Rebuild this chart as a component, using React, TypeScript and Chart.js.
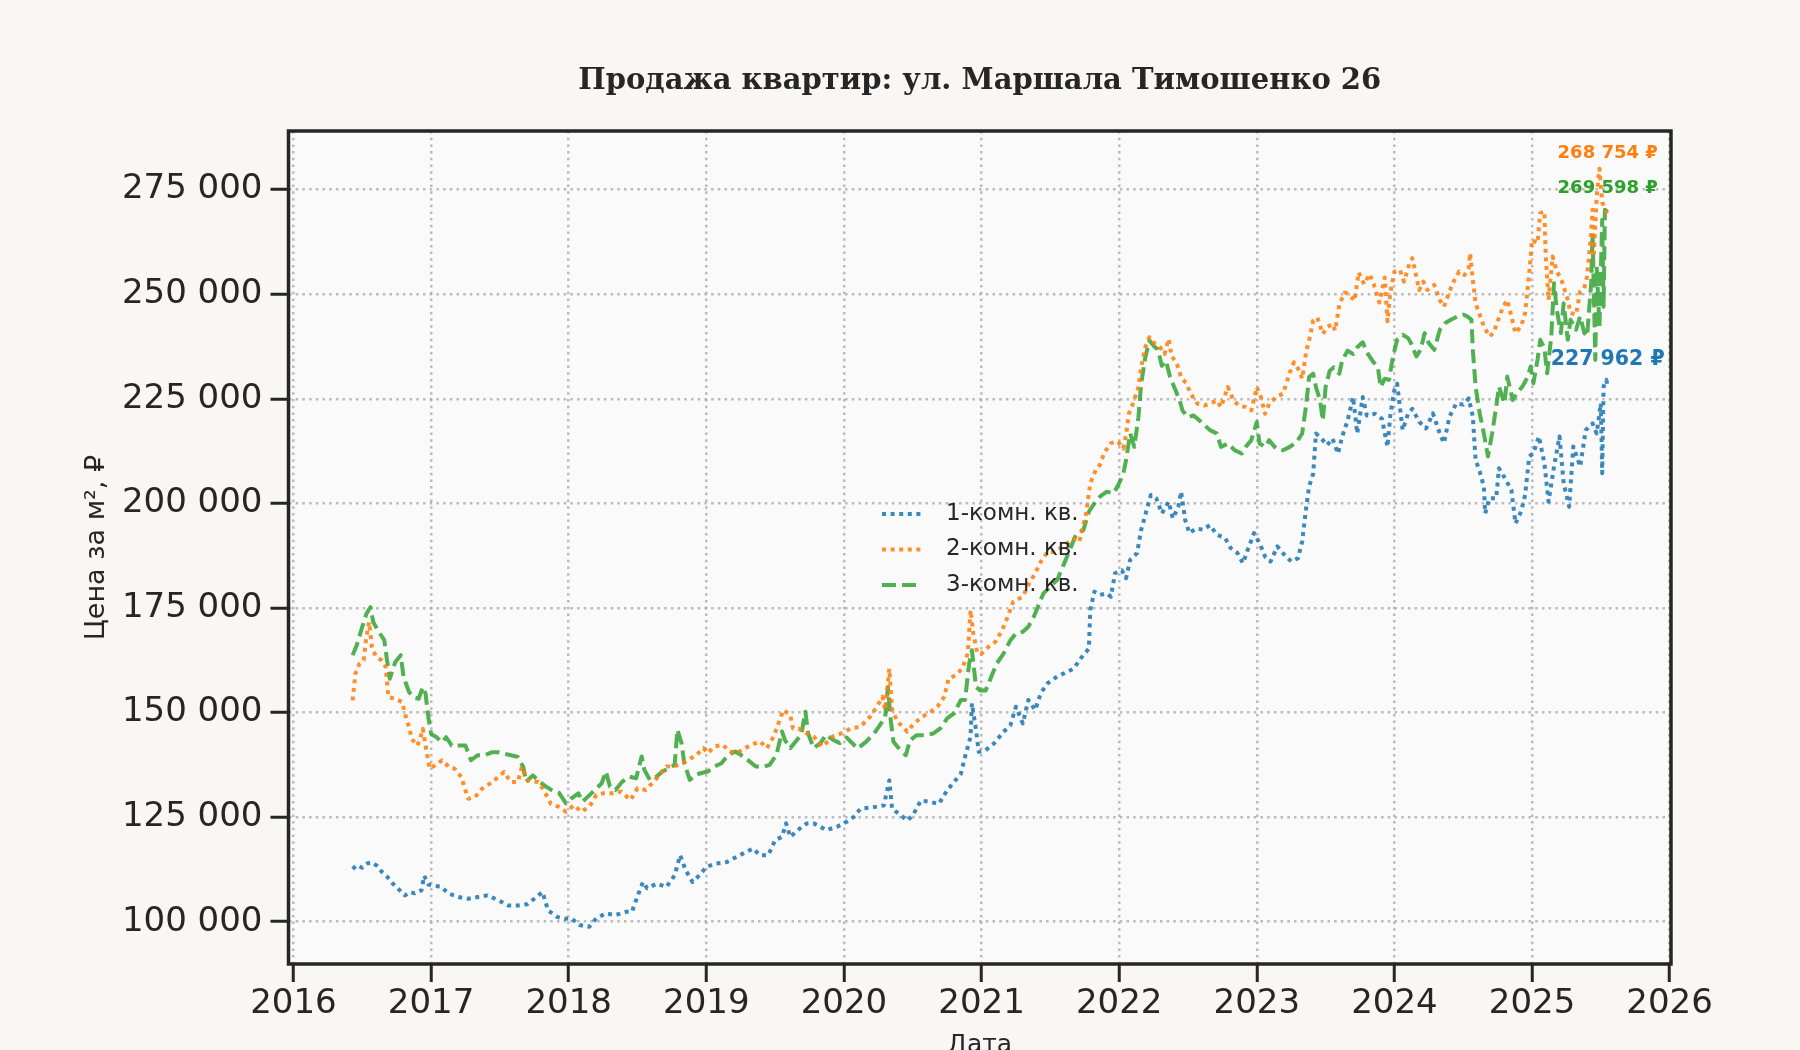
import React, { useEffect, useRef } from 'react';
import { Chart, registerables } from 'chart.js';

Chart.register(...registerables);

const chartTitle = 'Продажа квартир: ул. Маршала Тимошенко 26';
const xTitle = 'Дата';
const yTitle = 'Цена за м², ₽';
const seriesNames = ['1-комн. кв.', '2-комн. кв.', '3-комн. кв.'];
const yearTicks = [2016, 2017, 2018, 2019, 2020, 2021, 2022, 2023, 2024, 2025, 2026];
const priceTicks = [100000, 125000, 150000, 175000, 200000, 225000, 250000, 275000];

// [дата (доля года), цена за м²]
const oneRoom: [number, number][] = [
  [2016.43, 112600], [2016.46, 113500], [2016.5, 112900], [2016.54, 114000], [2016.57, 114200],
  [2016.61, 113300], [2016.64, 112000], [2016.68, 110800], [2016.72, 109200], [2016.76, 107900],
  [2016.81, 106300], [2016.85, 107100], [2016.88, 106800], [2016.93, 107500], [2016.95, 111000],
  [2016.98, 108900], [2017.02, 108600], [2017.07, 108400], [2017.13, 106700], [2017.2, 105900],
  [2017.27, 105500], [2017.34, 105900], [2017.41, 106300], [2017.49, 105100], [2017.56, 103900],
  [2017.63, 103900], [2017.7, 104200], [2017.75, 105500], [2017.81, 107100], [2017.85, 102700],
  [2017.92, 101100], [2017.97, 100700], [2018.02, 100800], [2018.08, 99200], [2018.15, 98800],
  [2018.2, 100800], [2018.27, 102000], [2018.34, 101600], [2018.42, 102400], [2018.46, 102400],
  [2018.49, 105200], [2018.54, 109500], [2018.57, 108000], [2018.64, 109100], [2018.71, 108300],
  [2018.77, 111100], [2018.81, 115900], [2018.85, 112300], [2018.9, 109500], [2018.95, 111100],
  [2019.0, 113100], [2019.07, 113900], [2019.15, 114300], [2019.22, 115500], [2019.29, 116700],
  [2019.34, 117500], [2019.39, 115900], [2019.45, 115900], [2019.5, 119500], [2019.55, 120300],
  [2019.58, 123500], [2019.61, 120300], [2019.68, 122300], [2019.73, 123500], [2019.78, 123500],
  [2019.83, 122700], [2019.87, 121900], [2019.95, 122700], [2020.02, 123900], [2020.07, 125000],
  [2020.12, 127000], [2020.22, 127400], [2020.29, 127800], [2020.33, 133800], [2020.35, 127000],
  [2020.4, 125800], [2020.46, 124200], [2020.5, 125400], [2020.56, 129000], [2020.63, 128600],
  [2020.69, 128200], [2020.75, 131400], [2020.81, 133800], [2020.85, 135400], [2020.88, 139400],
  [2020.92, 144200], [2020.93, 152200], [2020.96, 145800], [2020.98, 140600], [2021.03, 141000],
  [2021.09, 142600], [2021.16, 145400], [2021.21, 147000], [2021.25, 151400], [2021.3, 147400],
  [2021.34, 153000], [2021.39, 150600], [2021.43, 154600], [2021.48, 157000], [2021.55, 158600],
  [2021.62, 159700], [2021.67, 160500], [2021.72, 162900], [2021.78, 165300], [2021.79, 174500],
  [2021.82, 178900], [2021.86, 178100], [2021.91, 178500], [2021.94, 177700], [2021.97, 183300],
  [2022.02, 184000], [2022.05, 182100], [2022.08, 186500], [2022.13, 188100], [2022.16, 193700],
  [2022.2, 198400], [2022.23, 202000], [2022.27, 201200], [2022.31, 197600], [2022.36, 200400],
  [2022.39, 196400], [2022.43, 199200], [2022.45, 202800], [2022.48, 196000], [2022.51, 192900],
  [2022.56, 194000], [2022.61, 193700], [2022.66, 194800], [2022.71, 192500], [2022.77, 191700],
  [2022.81, 189300], [2022.86, 188100], [2022.9, 185700], [2022.93, 188500], [2022.98, 192900],
  [2023.02, 190500], [2023.06, 187300], [2023.1, 186100], [2023.15, 189700], [2023.19, 188100],
  [2023.25, 186100], [2023.3, 186900], [2023.33, 190900], [2023.36, 199200], [2023.38, 204000],
  [2023.41, 207100], [2023.43, 216700], [2023.47, 215500], [2023.51, 213900], [2023.55, 215500],
  [2023.59, 211900], [2023.62, 215900], [2023.66, 219800], [2023.7, 225400], [2023.73, 216700],
  [2023.77, 225400], [2023.8, 221000], [2023.86, 221400], [2023.91, 220200], [2023.95, 213500],
  [2023.97, 221000], [2024.0, 227100], [2024.02, 228600], [2024.06, 217500], [2024.1, 221500],
  [2024.13, 222600], [2024.18, 219500], [2024.23, 217900], [2024.28, 221500], [2024.33, 216700],
  [2024.36, 214400], [2024.4, 220700], [2024.45, 223900], [2024.5, 223600], [2024.54, 225100],
  [2024.57, 220700], [2024.59, 210400], [2024.62, 207600], [2024.65, 204000], [2024.66, 197600],
  [2024.69, 201200], [2024.74, 201200], [2024.76, 208400], [2024.81, 205600], [2024.85, 203200],
  [2024.88, 195200], [2024.92, 198000], [2024.95, 202000], [2024.98, 211200], [2025.01, 212000],
  [2025.05, 216000], [2025.09, 209600], [2025.12, 200400], [2025.16, 208800], [2025.2, 216000],
  [2025.23, 204800], [2025.27, 199200], [2025.3, 213600], [2025.35, 208800], [2025.39, 217500],
  [2025.44, 219100], [2025.47, 216700], [2025.5, 223900], [2025.51, 207200], [2025.52, 227900],
  [2025.54, 229500], [2025.55, 227962],
];

const twoRoom: [number, number][] = [
  [2016.43, 152900], [2016.44, 156100], [2016.45, 159300], [2016.48, 161700], [2016.51, 162500],
  [2016.53, 168100], [2016.55, 171600], [2016.57, 165700], [2016.6, 163300], [2016.64, 162500],
  [2016.67, 160900], [2016.69, 153700], [2016.74, 153300], [2016.79, 152500], [2016.81, 149700],
  [2016.84, 146500], [2016.86, 143700], [2016.9, 142100], [2016.92, 143700], [2016.94, 146100],
  [2016.97, 140200], [2016.99, 136600], [2017.03, 137400], [2017.08, 138600], [2017.13, 137000],
  [2017.17, 136600], [2017.22, 134600], [2017.25, 131400], [2017.27, 129400], [2017.32, 129800],
  [2017.37, 131800], [2017.41, 132600], [2017.46, 133800], [2017.53, 135800], [2017.58, 133400],
  [2017.63, 133400], [2017.66, 137000], [2017.7, 133800], [2017.78, 133400], [2017.82, 131400],
  [2017.87, 128200], [2017.92, 127600], [2017.98, 126300], [2018.04, 127900], [2018.09, 126300],
  [2018.15, 127500], [2018.2, 130300], [2018.25, 130700], [2018.32, 130700], [2018.38, 131100],
  [2018.45, 129100], [2018.5, 131900], [2018.56, 131500], [2018.64, 134300], [2018.71, 137100],
  [2018.77, 137100], [2018.82, 137900], [2018.87, 138700], [2018.93, 139900], [2018.98, 141500],
  [2019.01, 140300], [2019.06, 141900], [2019.12, 142300], [2019.17, 140700], [2019.22, 140300],
  [2019.28, 141500], [2019.33, 142300], [2019.39, 143100], [2019.44, 141500], [2019.49, 144300],
  [2019.52, 147000], [2019.56, 150600], [2019.61, 149400], [2019.63, 146200], [2019.67, 146200],
  [2019.73, 145000], [2019.78, 144300], [2019.84, 141900], [2019.87, 142700], [2019.92, 144300],
  [2019.98, 145000], [2020.05, 146200], [2020.12, 146600], [2020.19, 149000], [2020.24, 151400],
  [2020.28, 153800], [2020.3, 150600], [2020.33, 160500], [2020.35, 150600], [2020.39, 147800],
  [2020.44, 146200], [2020.46, 145400], [2020.51, 147400], [2020.57, 149000], [2020.63, 150200],
  [2020.68, 151400], [2020.73, 153800], [2020.76, 158100], [2020.81, 158900], [2020.86, 160500],
  [2020.9, 164100], [2020.92, 174500], [2020.94, 168900], [2020.97, 164100], [2021.0, 164100],
  [2021.05, 165700], [2021.1, 166900], [2021.15, 169700], [2021.19, 172900], [2021.23, 176500],
  [2021.3, 177700], [2021.34, 180500], [2021.39, 183300], [2021.43, 186000], [2021.48, 188400],
  [2021.53, 188400], [2021.57, 189200], [2021.62, 190400], [2021.67, 191600], [2021.71, 190800],
  [2021.76, 197600], [2021.79, 204800], [2021.83, 208000], [2021.86, 209200], [2021.89, 212000],
  [2021.94, 214400], [2021.99, 214800], [2022.03, 213100], [2022.05, 216300], [2022.07, 221400],
  [2022.1, 223800], [2022.14, 227800], [2022.16, 232500], [2022.19, 237300], [2022.22, 239700],
  [2022.26, 238100], [2022.29, 237700], [2022.33, 235700], [2022.36, 239300], [2022.38, 235300],
  [2022.42, 233300], [2022.45, 230200], [2022.49, 228600], [2022.52, 226200], [2022.57, 223800],
  [2022.62, 223400], [2022.66, 223800], [2022.71, 224600], [2022.74, 223000], [2022.79, 227800],
  [2022.83, 224600], [2022.87, 223400], [2022.92, 223000], [2022.96, 222200], [2023.0, 227800],
  [2023.03, 225400], [2023.06, 221400], [2023.09, 223800], [2023.14, 225400], [2023.19, 226200],
  [2023.21, 228200], [2023.24, 231300], [2023.27, 233700], [2023.31, 231700], [2023.33, 229800],
  [2023.36, 236500], [2023.38, 238900], [2023.41, 243700], [2023.44, 244400], [2023.48, 240500],
  [2023.51, 242100], [2023.55, 242900], [2023.57, 241300], [2023.6, 247600], [2023.64, 250400],
  [2023.67, 250000], [2023.71, 248400], [2023.74, 255200], [2023.78, 252400], [2023.82, 254800],
  [2023.85, 252400], [2023.89, 248000], [2023.93, 254000], [2023.95, 243500], [2023.97, 250200],
  [2024.0, 255400], [2024.04, 255800], [2024.07, 253000], [2024.11, 257400], [2024.13, 258600],
  [2024.16, 254200], [2024.18, 251000], [2024.21, 253000], [2024.24, 251000], [2024.29, 252200],
  [2024.33, 248600], [2024.36, 247000], [2024.4, 250600], [2024.43, 253000], [2024.47, 255400],
  [2024.51, 254600], [2024.54, 256200], [2024.55, 259800], [2024.57, 253400], [2024.59, 247800],
  [2024.62, 245100], [2024.65, 242300], [2024.69, 239900], [2024.72, 240700], [2024.75, 243500],
  [2024.79, 247000], [2024.82, 248600], [2024.85, 244700], [2024.88, 240700], [2024.92, 242300],
  [2024.95, 245500], [2024.98, 255000], [2025.0, 263000], [2025.04, 262200], [2025.06, 269400],
  [2025.09, 269800], [2025.1, 259000], [2025.12, 248600], [2025.15, 259000], [2025.18, 255400],
  [2025.21, 253800], [2025.23, 251800], [2025.26, 248600], [2025.28, 245500], [2025.32, 245100],
  [2025.35, 250600], [2025.38, 251400], [2025.4, 254200], [2025.43, 264600], [2025.44, 270200],
  [2025.45, 259800], [2025.47, 273300], [2025.49, 280000], [2025.51, 272000], [2025.53, 270500],
  [2025.55, 268754],
];

const threeRoom: [number, number][] = [
  [2016.43, 163700], [2016.46, 166100], [2016.5, 170500], [2016.53, 173600], [2016.56, 175200],
  [2016.58, 171600], [2016.62, 169300], [2016.66, 167300], [2016.68, 162500], [2016.7, 158100],
  [2016.74, 162100], [2016.78, 163700], [2016.8, 158500], [2016.84, 154900], [2016.87, 153700],
  [2016.91, 153300], [2016.94, 156100], [2016.96, 154500], [2016.98, 148900], [2017.0, 144900],
  [2017.04, 144100], [2017.08, 142900], [2017.11, 144100], [2017.15, 142100], [2017.2, 142100],
  [2017.25, 142100], [2017.29, 138600], [2017.34, 139800], [2017.39, 139800], [2017.44, 140500],
  [2017.49, 140500], [2017.53, 140200], [2017.58, 139800], [2017.63, 139400], [2017.67, 137000],
  [2017.69, 133400], [2017.74, 135000], [2017.79, 133400], [2017.84, 132200], [2017.88, 131400],
  [2017.93, 130800], [2017.98, 128300], [2018.02, 129500], [2018.07, 130700], [2018.1, 128700],
  [2018.14, 129900], [2018.19, 131500], [2018.24, 133100], [2018.27, 135900], [2018.3, 132300],
  [2018.34, 131500], [2018.39, 133500], [2018.44, 134700], [2018.49, 134300], [2018.53, 139500],
  [2018.55, 136300], [2018.59, 133900], [2018.64, 134700], [2018.68, 135900], [2018.73, 136700],
  [2018.77, 137500], [2018.79, 145900], [2018.82, 142700], [2018.84, 137900], [2018.88, 133900],
  [2018.92, 135100], [2018.96, 135500], [2019.01, 135900], [2019.06, 137100], [2019.11, 137900],
  [2019.16, 139900], [2019.21, 140700], [2019.25, 139900], [2019.3, 138700], [2019.36, 137100],
  [2019.42, 137100], [2019.46, 137500], [2019.51, 139900], [2019.55, 145500], [2019.57, 143500],
  [2019.61, 141500], [2019.66, 143500], [2019.69, 144700], [2019.72, 150200], [2019.74, 145000],
  [2019.78, 141500], [2019.83, 142700], [2019.87, 144700], [2019.92, 143500], [2019.97, 142700],
  [2020.02, 144000], [2020.1, 141400], [2020.16, 143000], [2020.22, 145000], [2020.27, 147400],
  [2020.3, 149000], [2020.32, 156100], [2020.34, 148200], [2020.36, 143000], [2020.41, 141000],
  [2020.45, 139800], [2020.48, 143400], [2020.53, 144600], [2020.59, 144600], [2020.65, 145000],
  [2020.7, 146200], [2020.75, 148600], [2020.8, 149800], [2020.85, 153000], [2020.88, 153000],
  [2020.91, 161700], [2020.93, 164900], [2020.96, 156100], [2020.99, 155300], [2021.03, 155300],
  [2021.07, 158500], [2021.11, 161700], [2021.16, 164100], [2021.21, 167300], [2021.25, 168900],
  [2021.3, 169300], [2021.34, 170500], [2021.38, 172900], [2021.42, 176100], [2021.45, 178500],
  [2021.5, 180100], [2021.55, 181700], [2021.6, 185600], [2021.65, 189600], [2021.69, 192800],
  [2021.74, 193600], [2021.78, 198000], [2021.82, 200000], [2021.86, 201600], [2021.91, 202800],
  [2021.96, 202400], [2022.0, 204800], [2022.03, 207100], [2022.05, 210300], [2022.08, 216700],
  [2022.11, 213500], [2022.14, 220600], [2022.16, 228600], [2022.19, 234900], [2022.22, 238900],
  [2022.26, 237300], [2022.28, 236900], [2022.31, 232900], [2022.34, 234100], [2022.37, 230200],
  [2022.4, 227800], [2022.44, 224600], [2022.46, 222200], [2022.5, 220600], [2022.54, 221000],
  [2022.57, 220200], [2022.62, 218700], [2022.66, 217500], [2022.71, 216700], [2022.74, 213500],
  [2022.79, 214300], [2022.84, 212700], [2022.89, 211900], [2022.92, 213500], [2022.96, 215100],
  [2023.0, 219400], [2023.02, 214300], [2023.06, 213500], [2023.09, 215100], [2023.14, 213100],
  [2023.19, 212700], [2023.24, 213500], [2023.29, 214700], [2023.33, 216700], [2023.36, 223800],
  [2023.38, 230200], [2023.41, 231000], [2023.43, 227800], [2023.46, 224600], [2023.48, 219800],
  [2023.5, 227800], [2023.53, 231700], [2023.56, 232500], [2023.6, 231000], [2023.62, 234100],
  [2023.66, 236500], [2023.7, 235700], [2023.73, 237300], [2023.77, 238500], [2023.8, 236100],
  [2023.84, 234100], [2023.88, 232500], [2023.9, 227800], [2023.93, 229800], [2023.96, 229500],
  [2023.99, 235100], [2024.02, 239100], [2024.06, 240300], [2024.1, 239500], [2024.12, 238300],
  [2024.16, 235100], [2024.19, 236700], [2024.22, 240700], [2024.25, 238300], [2024.29, 236700],
  [2024.33, 241500], [2024.37, 243100], [2024.41, 243900], [2024.46, 244700], [2024.5, 245100],
  [2024.53, 244700], [2024.56, 243900], [2024.57, 236700], [2024.59, 227900], [2024.62, 221500],
  [2024.65, 216700], [2024.68, 211200], [2024.71, 216700], [2024.74, 223100], [2024.76, 227900],
  [2024.8, 223900], [2024.82, 230300], [2024.86, 224700], [2024.89, 226300], [2024.93, 227900],
  [2024.97, 230300], [2024.99, 232700], [2025.01, 228700], [2025.04, 234300], [2025.06, 239100],
  [2025.09, 237100], [2025.11, 231100], [2025.14, 239900], [2025.16, 252600], [2025.18, 246300],
  [2025.21, 240700], [2025.23, 247800], [2025.26, 239100], [2025.28, 243900], [2025.32, 241500],
  [2025.35, 244700], [2025.38, 240700], [2025.4, 239900], [2025.43, 252600], [2025.44, 264600],
  [2025.46, 234300], [2025.47, 256600], [2025.49, 242300], [2025.51, 267800], [2025.52, 247000],
  [2025.53, 270200], [2025.55, 269598],
];

const seriesData = [oneRoom, twoRoom, threeRoom];
const lineColors = ['rgba(31,119,180,0.88)', 'rgba(255,127,14,0.88)', 'rgba(44,160,44,0.82)'];
const labelColors = ['#1f77b4', '#ff7f0e', '#2ca02c'];
const lineDashes = [[4, 4.6], [4, 4.6], [14, 6]];
// подписи последних значений: подъём над точкой (px) и кегль
const labelLift = [27, 62, 24];
const labelSize = [20.5, 18, 18];

const TEXT = '#262626';
const SANS = 'DejaVu Sans';

const spaced = (v: number) => String(Math.round(v)).replace(/\B(?=(\d{3})+(?!\d))/g, ' ');

const decorPlugin = {
  id: 'decor',
  beforeDraw(chart: any) {
    const { ctx, chartArea: a } = chart;
    ctx.save();
    ctx.fillStyle = '#fafafa';
    ctx.fillRect(a.left, a.top, a.right - a.left, a.bottom - a.top);
    ctx.restore();
  },
  afterDraw(chart: any) {
    const { ctx, chartArea: a } = chart;
    ctx.save();
    // рамка
    ctx.strokeStyle = '#262626';
    ctx.lineWidth = 3.5;
    ctx.setLineDash([]);
    ctx.strokeRect(a.left, a.top, a.right - a.left, a.bottom - a.top);

    // подписи последних значений
    ctx.textAlign = 'center';
    ctx.textBaseline = 'middle';
    chart.data.datasets.forEach((ds: any, i: number) => {
      const last = ds.data[ds.data.length - 1];
      const px = chart.scales.x.getPixelForValue(last.x);
      const py = chart.scales.y.getPixelForValue(last.y);
      ctx.font = `bold ${labelSize[i]}px "${SANS}"`;
      ctx.fillStyle = labelColors[i];
      ctx.fillText(`${spaced(last.y)} ₽`, px, py - labelLift[i]);
    });

    // легенда
    const lx = 882;
    const ly = 514;
    const step = 35.5;
    chart.data.datasets.forEach((ds: any, i: number) => {
      const y = ly + i * step;
      ctx.strokeStyle = ds.borderColor;
      ctx.lineWidth = ds.borderWidth;
      ctx.lineCap = 'butt';
      ctx.setLineDash(ds.borderDash);
      ctx.beginPath();
      ctx.moveTo(lx, y);
      ctx.lineTo(lx + 40, y);
      ctx.stroke();
      ctx.setLineDash([]);
      ctx.fillStyle = TEXT;
      ctx.font = `23px "${SANS}"`;
      ctx.textAlign = 'left';
      ctx.fillText(ds.label, lx + 64, y);
    });
    ctx.restore();
  },
};

const App: React.FC = () => {
  const canvasRef = useRef<HTMLCanvasElement>(null);
  const chartRef = useRef<Chart | null>(null);

  useEffect(() => {
    if (!canvasRef.current) return;
    if (chartRef.current) chartRef.current.destroy();

    const gridOpts = {
      color: 'rgba(165,165,165,0.75)',
      lineWidth: 2.5,
      tickLength: 18,
      tickColor: TEXT,
      tickWidth: 3,
      tickBorderDash: [],
    };

    chartRef.current = new Chart(canvasRef.current, {
      type: 'line',
      data: {
        datasets: seriesData.map((points, i) => ({
          label: seriesNames[i],
          data: points.map(([x, y]) => ({ x, y })),
          borderColor: lineColors[i],
          borderWidth: 4,
          borderDash: lineDashes[i],
          borderCapStyle: 'butt',
          borderJoinStyle: 'round',
          pointRadius: 0,
          tension: 0,
          fill: false,
        })),
      },
      options: {
        animation: false,
        responsive: true,
        maintainAspectRatio: false,
        layout: { padding: { left: 0, right: 129, top: 0, bottom: 0 } },
        plugins: {
          legend: { display: false },
          tooltip: { enabled: false },
          title: {
            display: true,
            text: chartTitle,
            fullSize: false,
            color: TEXT,
            font: { family: 'DejaVu Serif', size: 29, weight: 'bold', lineHeight: 1.2 },
            padding: { top: 64, bottom: 32.2 },
          },
        },
        scales: {
          x: {
            type: 'linear',
            min: 2015.964,
            max: 2026.01,
            afterBuildTicks: (s: any) => {
              s.ticks = yearTicks.map((v) => ({ value: v }));
            },
            afterFit: (s: any) => {
              s.height = 86;
            },
            ticks: {
              autoSkip: false,
              maxRotation: 0,
              padding: 2,
              color: TEXT,
              font: { family: SANS, size: 34 },
              callback: (v: any) => String(v),
            },
            grid: gridOpts,
            border: { display: false, dash: [2.5, 4.2] },
            title: {
              display: true,
              text: xTitle,
              color: TEXT,
              font: { family: SANS, size: 25 },
              padding: { top: 0, bottom: -10.5 },
            },
          },
          y: {
            type: 'linear',
            min: 89900,
            max: 289000,
            afterBuildTicks: (s: any) => {
              s.ticks = priceTicks.map((v) => ({ value: v }));
            },
            afterFit: (s: any) => {
              s.width = 288.5;
            },
            ticks: {
              padding: 8,
              color: TEXT,
              font: { family: SANS, size: 34 },
              callback: (v: any) => spaced(Number(v)),
            },
            grid: gridOpts,
            border: { display: false, dash: [2.5, 4.2] },
            title: {
              display: true,
              text: yTitle,
              color: TEXT,
              font: { family: SANS, size: 27 },
              padding: { top: 81, bottom: 0 },
            },
          },
        },
      } as any,
      plugins: [decorPlugin],
    });

    return () => {
      if (chartRef.current) {
        chartRef.current.destroy();
        chartRef.current = null;
      }
    };
  }, []);

  return (
    <div
      style={{
        position: 'fixed',
        left: 0,
        top: 0,
        width: 1800,
        height: 1050,
        background: '#f8f7f3',
      }}
    >
      <canvas ref={canvasRef}></canvas>
    </div>
  );
};

export default App;
